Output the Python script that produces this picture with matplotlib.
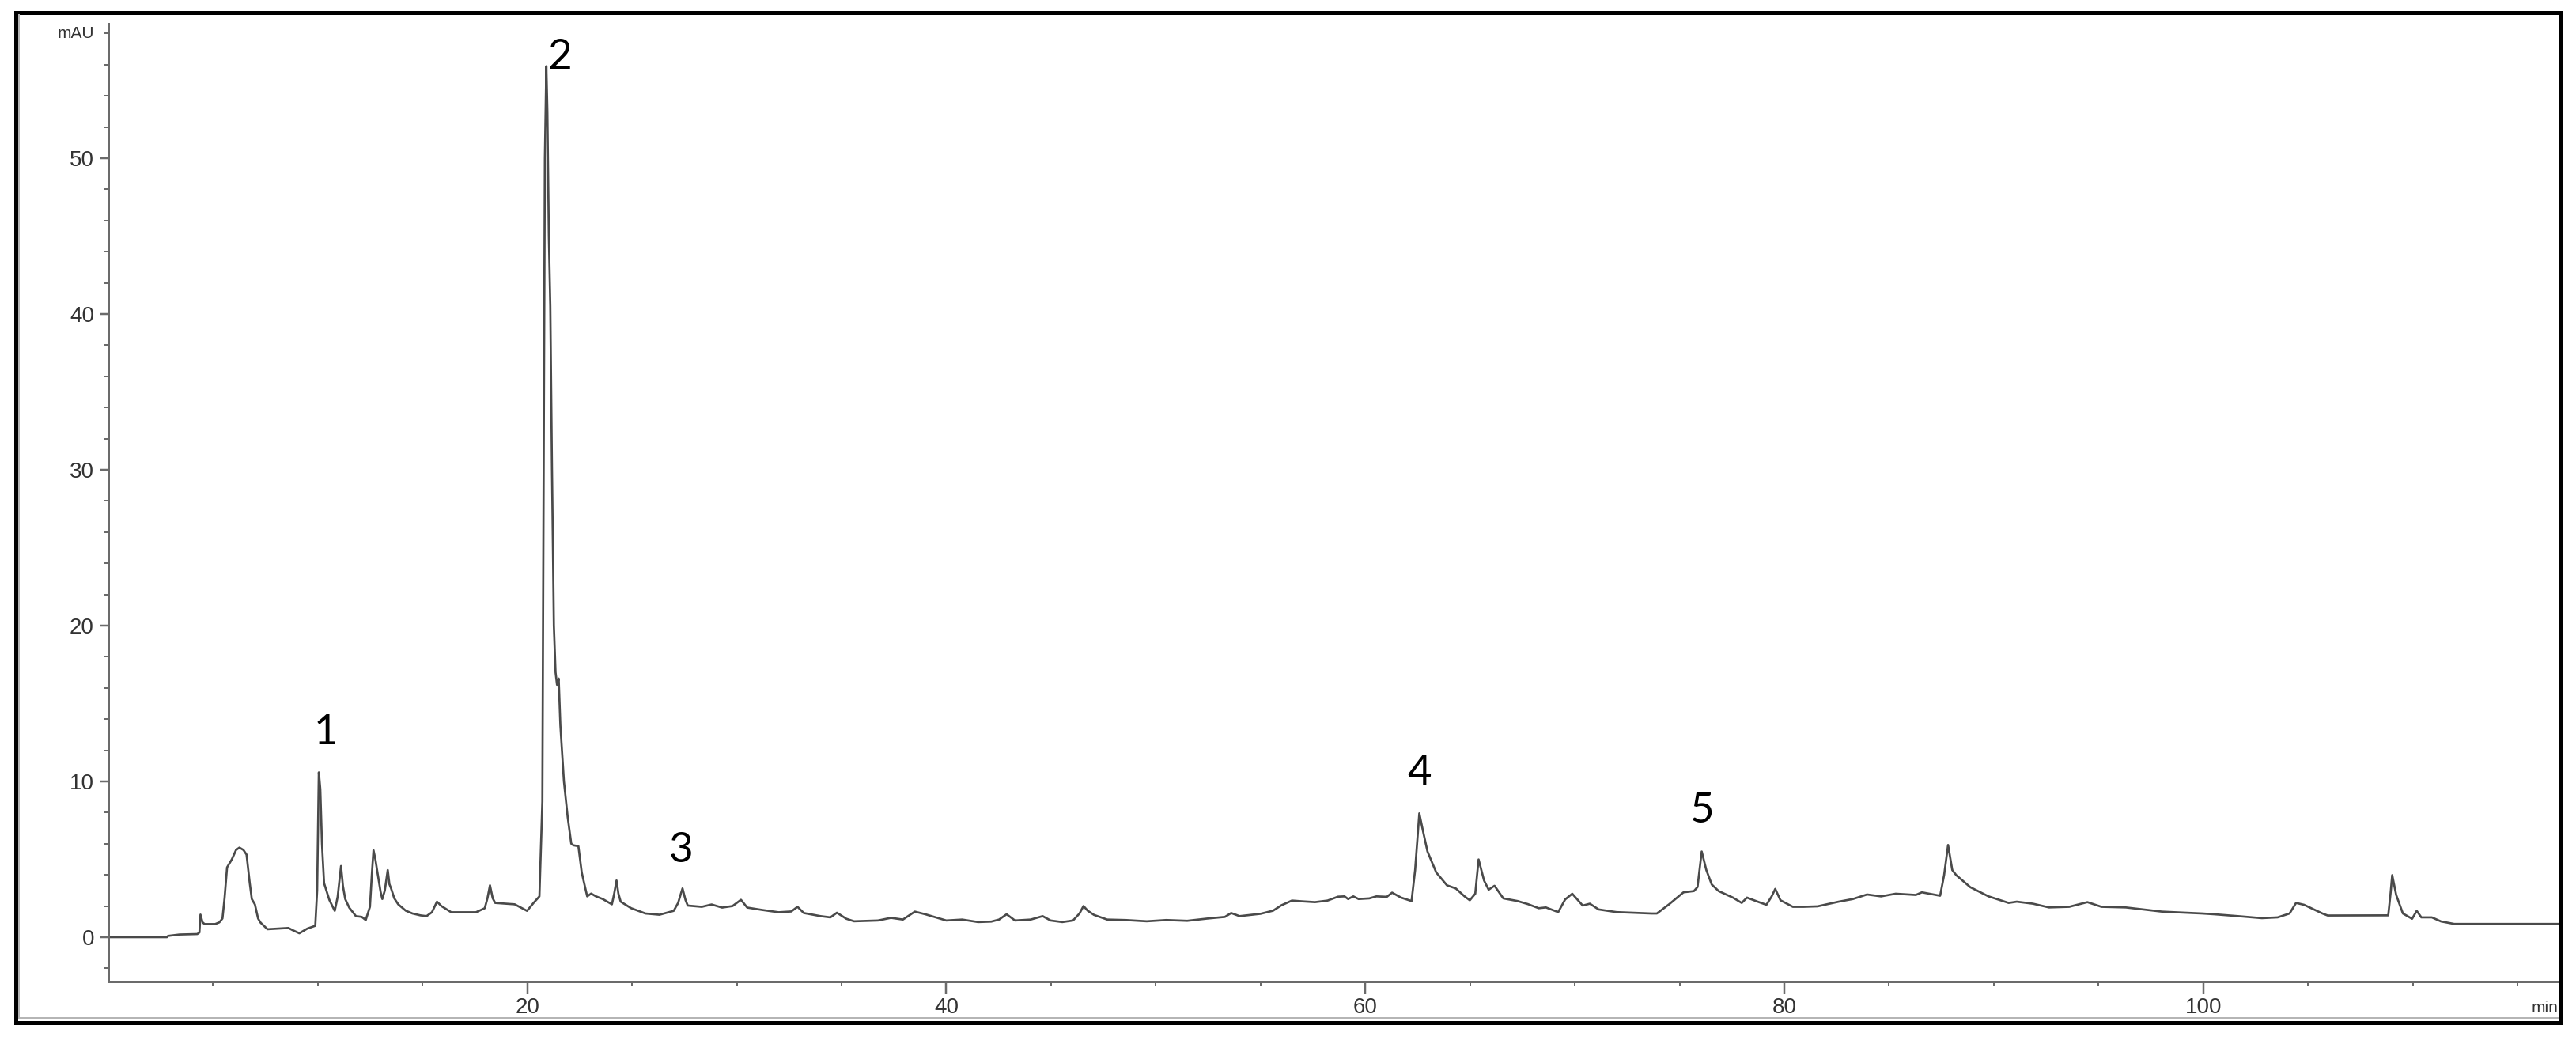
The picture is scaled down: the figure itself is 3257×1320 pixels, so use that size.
import numpy as np
import matplotlib.pyplot as plt
from matplotlib.patches import Rectangle
from matplotlib.lines import Line2D
from matplotlib.ticker import FixedLocator

# -----------------------------
# Chromatogram
# -----------------------------
rt_min = [
    0.0, 2.8, 2.85, 3.4, 4.25, 4.35, 4.40, 4.5, 4.6, 5.1, 5.3, 5.45, 5.55, 5.67,
    5.9, 6.1, 6.26, 6.45, 6.6, 6.75, 6.85, 7.0, 7.15, 7.27, 7.6, 8.1, 8.6, 8.8,
    9.12, 9.5, 9.88, 9.97, 10.05, 10.12, 10.2, 10.3, 10.55, 10.81, 10.95, 11.11,
    11.2, 11.31, 11.5, 11.82, 12.1, 12.29, 12.49, 12.58, 12.66, 12.75, 12.83,
    13.0, 13.08, 13.2, 13.34, 13.42, 13.5, 13.65, 13.84, 14.2, 14.52, 14.9,
    15.19, 15.45, 15.69, 15.9, 16.37, 17.0, 17.55, 17.97, 18.1, 18.22, 18.35,
    18.47, 19.0, 19.4, 19.99, 20.3, 20.58, 20.72, 20.78, 20.84, 20.91, 20.96,
    21.03, 21.1, 21.18, 21.27, 21.35, 21.42, 21.5, 21.58, 21.75, 21.93, 22.1,
    22.2, 22.44, 22.6, 22.86, 23.05, 23.28, 23.6, 24.04, 24.15, 24.26, 24.35,
    24.46, 24.96, 25.64, 26.31, 26.99, 27.2, 27.41, 27.55, 27.66, 28.33, 28.8,
    29.3, 29.8, 30.2, 30.5, 31.2, 32.0, 32.6, 32.9, 33.2, 34.0, 34.47, 34.78,
    35.23, 35.6, 36.74, 37.36, 37.93, 38.5, 39.0, 40.0, 40.76, 41.52, 42.15,
    42.52, 42.88, 43.28, 44.03, 44.6, 44.98, 45.54, 46.05, 46.36, 46.55, 46.75,
    47.05, 47.68, 48.56, 49.57, 50.5, 51.5, 52.5, 53.3, 53.6, 54.0, 55.0, 55.6,
    56.0, 56.5, 57.0, 57.6, 58.2, 58.7, 59.01, 59.18, 59.43, 59.68, 60.19,
    60.53, 61.03, 61.28, 61.71, 62.21, 62.38, 62.58, 62.75, 62.97, 63.39,
    63.9, 64.32, 64.74, 64.99, 65.25, 65.41, 65.67, 65.89, 66.17, 66.59, 67.27,
    67.77, 68.28, 68.62, 69.21, 69.54, 69.88, 70.38, 70.72, 71.14, 71.99,
    73.67, 73.92, 74.51, 75.19, 75.69, 75.86, 76.06, 76.28, 76.54, 76.87,
    77.55, 77.97, 78.22, 78.73, 79.15, 79.4, 79.57, 79.82, 80.41, 80.92, 81.59,
    82.6, 83.28, 83.95, 84.62, 85.32, 86.28, 86.57, 87.44, 87.63, 87.82, 88.02,
    88.21, 88.88, 89.75, 90.71, 91.1, 91.87, 92.64, 93.6, 94.47, 95.14, 96.3,
    98.03, 99.96, 100.53, 101.66, 102.8, 103.55, 104.12, 104.43, 104.81,
    105.69, 105.94, 108.83, 108.94, 109.02, 109.21, 109.53, 109.97, 110.19,
    110.41, 110.91, 111.35, 111.98, 117.0,
]
signal_mau = [
    0.0, 0.0, 0.08, 0.17, 0.2, 0.3, 1.45, 0.95, 0.84, 0.84, 0.95, 1.2, 2.5, 4.48,
    5.0, 5.6, 5.75, 5.6, 5.3, 3.5, 2.45, 2.1, 1.2, 0.93, 0.51, 0.55, 0.59, 0.45,
    0.25, 0.55, 0.73, 3.0, 10.58, 9.5, 6.0, 3.47, 2.4, 1.69, 2.6, 4.57,
    3.3, 2.45, 1.9, 1.35, 1.3, 1.1, 1.95, 4.0, 5.58, 5.0, 4.31,
    2.9, 2.45, 3.0, 4.31, 3.4, 3.13, 2.5, 2.11, 1.7, 1.52, 1.4,
    1.35, 1.6, 2.28, 2.0, 1.6, 1.6, 1.6, 1.86, 2.5, 3.33, 2.5,
    2.2, 2.15, 2.11, 1.69, 2.2, 2.62, 8.7, 30.0, 50.0, 55.9, 53.0,
    45.0, 40.5, 30.0, 20.0, 17.0, 16.2, 16.6, 13.6, 10.0, 7.7, 6.0,
    5.9, 5.84, 4.15, 2.62, 2.8, 2.62, 2.45, 2.11, 2.8, 3.64, 2.8,
    2.28, 1.86, 1.52, 1.44, 1.69, 2.2, 3.13, 2.4, 2.03, 1.95, 2.1,
    1.9, 2.0, 2.4, 1.9, 1.75, 1.6, 1.65, 1.95, 1.55, 1.35, 1.27, 1.57,
    1.18, 1.02, 1.07, 1.24, 1.13, 1.64, 1.47, 1.07, 1.13, 0.97, 1.0,
    1.13, 1.47, 1.07, 1.13, 1.35, 1.07, 0.97, 1.07, 1.52, 2.0, 1.7,
    1.43, 1.13, 1.1, 1.02, 1.1, 1.05, 1.2, 1.3, 1.55, 1.35, 1.5, 1.7,
    2.05, 2.35, 2.3, 2.25, 2.35, 2.6, 2.62, 2.45, 2.62, 2.45, 2.49,
    2.62, 2.59, 2.86, 2.54, 2.32, 4.31, 7.95, 6.85, 5.5, 4.15,
    3.33, 3.13, 2.62, 2.37, 2.79, 4.99, 3.64, 3.05, 3.3, 2.49, 2.32,
    2.12, 1.86, 1.91, 1.61, 2.42, 2.79, 2.03, 2.15, 1.78, 1.61,
    1.52, 1.52, 2.12, 2.88, 2.96, 3.22, 5.5, 4.31, 3.38, 2.96,
    2.54, 2.2, 2.54, 2.28, 2.08, 2.62, 3.1, 2.37, 1.95, 1.95, 1.98,
    2.28, 2.45, 2.74, 2.62, 2.79, 2.71, 2.88, 2.66, 3.98, 5.92, 4.31,
    3.98, 3.21, 2.62, 2.2, 2.28, 2.15, 1.91, 1.95, 2.25, 1.95, 1.91,
    1.64, 1.52, 1.47, 1.35, 1.22, 1.27, 1.52, 2.2, 2.08,
    1.52, 1.39, 1.4, 2.79, 3.98, 2.71, 1.52, 1.18, 1.69,
    1.27, 1.27, 1.01, 0.85, 0.85,
]

# numbered peaks
peak_names = ["1", "2", "3", "4", "5"]
peak_rt = [10.05, 20.91, 27.41, 62.58, 76.06]

# axes ticks
x_major = [20, 40, 60, 80, 100]
y_major = [0, 10, 20, 30, 40, 50]

# -----------------------------
# Layout (pixels of the 3257x1320 canvas)
# -----------------------------
W, H, DPI = 3257, 1320, 100
PT = 72.0 / DPI  # px -> points

AX_L, AX_R, AX_T, AX_B = 136.9, 3236.0, 30.0, 1240.7
XLIM = (0, 117)
YLIM = (-2.83, 58.63)

AXIS_GRAY = "#6b6b6b"
TRACE = "#4a4a4a"
TEXT = "#333333"

# label offsets from peak apex, in px (dx, dy)
label_offset = {"1": (9, 50), "2": (17, 11), "3": (-2, 48), "4": (0, 51), "5": (0, 51)}


def plot_chromatogram():
    fig = plt.figure(figsize=(W / DPI, H / DPI), dpi=DPI)
    ax = fig.add_axes([AX_L / W, (H - AX_B) / H, (AX_R - AX_L) / W, (AX_B - AX_T) / H])

    ax.plot(rt_min, signal_mau, color=TRACE, lw=2.7 * PT, solid_joinstyle="round")

    ax.set_xlim(*XLIM)
    ax.set_ylim(*YLIM)

    for side in ("top", "right"):
        ax.spines[side].set_visible(False)
    for side in ("left", "bottom"):
        ax.spines[side].set_color(AXIS_GRAY)
        ax.spines[side].set_linewidth(3 * PT)

    ax.xaxis.set_major_locator(FixedLocator(x_major))
    ax.xaxis.set_minor_locator(FixedLocator([v for v in range(5, 117, 5) if v not in x_major]))
    ax.yaxis.set_major_locator(FixedLocator(y_major))
    ax.yaxis.set_minor_locator(FixedLocator([v for v in range(-2, 59, 2) if v not in y_major]))

    tick_font = ["Liberation Sans Narrow", "Liberation Sans", "DejaVu Sans"]
    ax.tick_params(axis="x", which="major", length=16 * PT, width=2.5 * PT, color=AXIS_GRAY,
                   pad=4 * PT, labelsize=20, labelcolor=TEXT)
    ax.tick_params(axis="x", which="minor", length=6 * PT, width=2 * PT, color=AXIS_GRAY)
    ax.tick_params(axis="y", which="major", length=11 * PT, width=2.5 * PT, color=AXIS_GRAY,
                   pad=7 * PT, labelsize=20, labelcolor=TEXT)
    ax.tick_params(axis="y", which="minor", length=5 * PT, width=2 * PT, color=AXIS_GRAY)
    for lab in ax.get_xticklabels() + ax.get_yticklabels():
        lab.set_family(tick_font)

    # units
    ax.annotate("mAU", xy=(0, 58), xycoords="data", xytext=(-18 * PT, 0),
                textcoords="offset points", ha="right", va="center",
                fontsize=15, color=TEXT, family=tick_font)
    fig.text(3234 / W, (H - 1274) / H, "min", ha="right", va="center",
             fontsize=15, color=TEXT, family=tick_font)

    # peak numbers
    for name, rt in zip(peak_names, peak_rt):
        apex = np.interp(rt, rt_min, signal_mau)
        dx, dy = label_offset[name]
        ax.annotate(name, xy=(rt, apex), xytext=(dx * PT, dy * PT),
                    textcoords="offset points", ha="center", va="center",
                    fontsize=38, color="black", family=["Lato", "DejaVu Sans"])

    # frame around the whole picture
    fig.add_artist(Rectangle((20 / W, (H - 1293) / H), (3238 - 20) / W, (1293 - 16) / H,
                             transform=fig.transFigure, fill=False, ec="black", lw=5 * PT))
    fig.add_artist(Line2D([24 / W, 24 / W], [(H - 1288) / H, (H - 19) / H],
                          transform=fig.transFigure, color="#b5b5b5", lw=2 * PT))
    fig.add_artist(Line2D([24 / W, 3235 / W], [(H - 1287) / H, (H - 1287) / H],
                          transform=fig.transFigure, color="#b5b5b5", lw=2 * PT))

    fig.savefig("out.png", dpi=DPI, facecolor="white")


if __name__ == "__main__":
    plot_chromatogram()
